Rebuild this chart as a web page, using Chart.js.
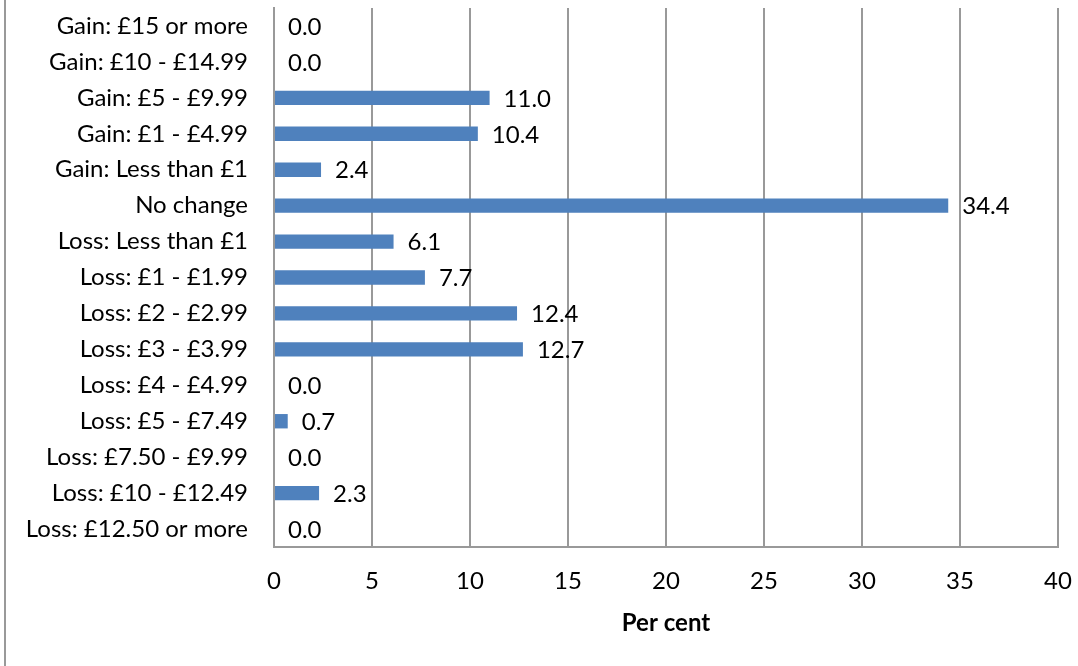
<!DOCTYPE html>
<html>
<head>
<meta charset="utf-8">
<script src="https://cdn.jsdelivr.net/npm/chart.js@4"></script>
<style>
  html, body { margin: 0; padding: 0; background: #fff; }
  #wrap { position: relative; width: 1078px; height: 666px; }
  #edge { position: absolute; left: 4px; top: 0; width: 2px; height: 666px; background: #999; }
</style>
</head>
<body>
<div id="wrap">
  <div id="edge"></div>
  <canvas id="chart" width="1078" height="666"></canvas>
</div>
<script>
// data
const categories = [
    'Gain: £15 or more',
    'Gain: £10 - £14.99',
    'Gain: £5 - £9.99',
    'Gain: £1 - £4.99',
    'Gain: Less than £1',
    'No change',
    'Loss: Less than £1',
    'Loss: £1 - £1.99',
    'Loss: £2 - £2.99',
    'Loss: £3 - £3.99',
    'Loss: £4 - £4.99',
    'Loss: £5 - £7.49',
    'Loss: £7.50 - £9.99',
    'Loss: £10 - £12.49',
    'Loss: £12.50 or more'
];
const perCent = [0.0, 0.0, 11.0, 10.4, 2.4, 34.4, 6.1, 7.7, 12.4, 12.7, 0.0, 0.7, 0.0, 2.3, 0.0];
const xTicks = [0, 5, 10, 15, 20, 25, 30, 35, 40];

const FONT = 'Lato, "Open Sans", sans-serif';
const GRID = '#999';

// Value labels at the end of each bar
const barLabels = {
    id: 'barLabels',
    afterDatasetsDraw(chart) {
        const ctx = chart.ctx;
        const meta = chart.getDatasetMeta(0);
        ctx.save();
        ctx.font = '24px ' + FONT;
        ctx.fillStyle = '#000';
        ctx.textAlign = 'left';
        ctx.textBaseline = 'middle';
        meta.data.forEach((bar, i) => {
            ctx.fillText(perCent[i].toFixed(1), bar.x + 14, bar.y + 1);
        });
        ctx.restore();
    }
};

new Chart(document.getElementById('chart'), {
    type: 'bar',
    data: {
        labels: categories,
        datasets: [{
            data: perCent,
            backgroundColor: '#4F81BD',
            barPercentage: 0.4,
            categoryPercentage: 1.0
        }]
    },
    options: {
        indexAxis: 'y',
        responsive: false,
        animation: false,
        layout: { padding: { top: 8, right: 20, bottom: 0, left: 0 } },
        plugins: {
            legend: { display: false },
            tooltip: { enabled: false }
        },
        scales: {
            x: {
                min: 0,
                max: 40,
                afterBuildTicks: (scale) => { scale.ticks = xTicks.map(v => ({ value: v })); },
                afterFit: (scale) => {
                    scale.height = 119;
                    scale.paddingLeft = 0;
                    scale.paddingRight = 0;
                },
                grid: { color: GRID, lineWidth: 2, drawTicks: false },
                border: { color: GRID, width: 2 },
                ticks: { color: '#000', font: { family: FONT, size: 24 }, padding: 20 },
                title: {
                    display: true,
                    text: 'Per cent',
                    color: '#000',
                    font: { family: FONT, size: 24, weight: 'bold' },
                    padding: { top: 0, bottom: 28 }
                }
            },
            y: {
                afterFit: (scale) => {
                    scale.width = 274;
                    scale.paddingTop = 0;
                    scale.paddingBottom = 0;
                },
                grid: { display: false, drawTicks: false },
                border: { color: GRID, width: 2 },
                ticks: { color: '#000', font: { family: FONT, size: 24 }, padding: 26, autoSkip: false }
            }
        }
    },
    plugins: [barLabels]
});
</script>
</body>
</html>
